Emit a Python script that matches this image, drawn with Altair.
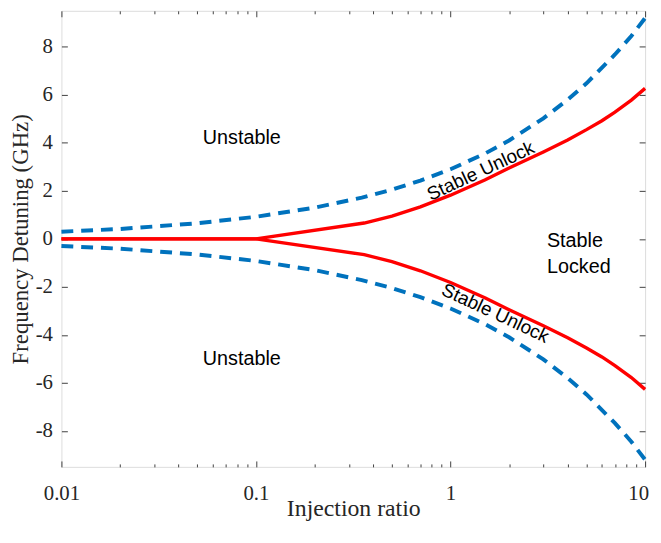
import altair as alt
import pandas as pd

# ---- data ----
x_dash = [0.01, 0.02, 0.05, 0.1, 0.2, 0.35, 0.5, 0.7, 1, 1.5, 2, 3, 4, 5, 7, 8.5, 10]
y_dash_upper = [0.3, 0.41, 0.65, 0.92, 1.3, 1.72, 2.05, 2.43, 2.9, 3.55, 4.1, 5.02,
                5.8, 6.48, 7.68, 8.45, 9.2]
y_dash_lower = [-0.3, -0.41, -0.65, -0.92, -1.3, -1.72, -2.05, -2.43, -2.9, -3.55, -4.1, -5.02,
                -5.8, -6.48, -7.68, -8.45, -9.2]

x_red = [0.01, 0.1, 0.36, 0.5, 0.7, 1, 1.5, 2, 3, 4, 5, 6, 7, 8.5, 10]
y_red_upper = [0, 0, 0.66, 0.95, 1.33, 1.82, 2.45, 2.95, 3.62, 4.12, 4.55, 4.92, 5.28, 5.78, 6.27]
y_red_lower = [0, 0, -0.66, -0.95, -1.33, -1.82, -2.45, -2.95, -3.62, -4.12, -4.55, -4.92, -5.28, -5.78, -6.27]

x_major = [0.01, 0.1, 1, 10]
x_major_left = [0.01, 0.1, 1]
x_major_end = [10]
x_minor = [0.02, 0.03, 0.04, 0.05, 0.06, 0.07, 0.08, 0.09,
           0.2, 0.3, 0.4, 0.5, 0.6, 0.7, 0.8, 0.9,
           2, 3, 4, 5, 6, 7, 8, 9]
y_ticks = [-8, -6, -4, -2, 0, 2, 4, 6, 8]

flat_labels = ["Unstable", "Unstable", "Stable\nLocked"]
flat_x = [0.0533, 0.0533, 3.13]
flat_y = [4.18, -5.0, -0.08]

rot_labels = ["Stable Unlock", "Stable Unlock"]
rot_x = [1.43, 1.7]
rot_y = [2.82, -3.1]
rot_angle = [335, 25]

# ---- tables ----
df_dash = pd.DataFrame({
    "x": x_dash + x_dash,
    "y": y_dash_upper + y_dash_lower,
    "branch": ["upper"] * len(x_dash) + ["lower"] * len(x_dash),
})
df_red = pd.DataFrame({
    "x": x_red + x_red,
    "y": y_red_upper + y_red_lower,
    "branch": ["upper"] * len(x_red) + ["lower"] * len(x_red),
})
df_flat = pd.DataFrame({"label": flat_labels, "x": flat_x, "y": flat_y})
df_rot = pd.DataFrame({"label": rot_labels, "x": rot_x, "y": rot_y, "angle": rot_angle})

W, H = 590, 461
AX = "#404040"
TXT = "#262626"
xs = alt.Scale(type="log", domain=[0.01, 10], nice=False)
ys = alt.Scale(domain=[-9.5, 9.5], nice=False, zero=False)

main_x_axis = alt.Axis(
    orient="bottom", values=x_major_left, labelExpr="toString(datum.value)",
    tickSize=0, domain=False, grid=False, labelPadding=16, labelFlush=False,
    labelOverlap=False,
    labelFont="Liberation Serif", labelFontSize=21, labelColor=TXT,
    title="Injection ratio", titleFont="Liberation Serif", titleFontSize=24,
    titleFontWeight="normal", titleColor=TXT,
    titleY=30, titleBaseline="top",
)
end_x_axis = alt.Axis(
    orient="bottom", values=x_major_end, labelExpr="toString(datum.value)",
    tickSize=0, domain=False, grid=False, labelPadding=16, labelFlush=False,
    labelOverlap=False, labelOffset=-7,
    labelFont="Liberation Serif", labelFontSize=21, labelColor=TXT,
    title=None,
)
main_y_axis = alt.Axis(
    orient="left", values=y_ticks, labelExpr="toString(datum.value)",
    tickSize=0, domain=False, grid=False, labelPadding=9, labelFlush=False,
    labelOverlap=False,
    labelFont="Liberation Serif", labelFontSize=21, labelColor=TXT,
    title="Frequency Detuning (GHz)", titleFont="Liberation Serif", titleFontSize=23,
    titleFontWeight="normal", titleColor=TXT,
    titleX=-41, titleBaseline="middle",
)


def tick_axis(orient, values, size, offset):
    return alt.Axis(orient=orient, values=values, tickSize=size, offset=offset,
                    labels=False, domain=False, grid=False, title=None,
                    tickColor=AX, tickWidth=1)


dash = alt.Chart(df_dash).mark_line(
    color="#0072BD", strokeWidth=4, strokeDash=[12, 8]
).encode(
    x=alt.X("x:Q", scale=xs, axis=main_x_axis),
    y=alt.Y("y:Q", scale=ys, axis=main_y_axis),
    detail="branch:N",
)

red = alt.Chart(df_red).mark_line(color="#FF0000", strokeWidth=3.4).encode(
    x=alt.X("x:Q", scale=xs, axis=None),
    y=alt.Y("y:Q", scale=ys, axis=None),
    detail="branch:N",
)


def ghost(xaxis, yaxis):
    return alt.Chart(df_dash).mark_point(opacity=0).encode(
        x=alt.X("x:Q", scale=xs, axis=xaxis),
        y=alt.Y("y:Q", scale=ys, axis=yaxis),
    )


g1 = ghost(tick_axis("top", x_major, 6, -H), tick_axis("right", y_ticks, 6, -W))
g2 = ghost(tick_axis("top", x_minor, 3, -H), tick_axis("left", y_ticks, 6, -W))
g3 = ghost(tick_axis("bottom", x_major, 6, -H), None)
g4 = ghost(tick_axis("bottom", x_minor, 3, -H), None)
g5 = ghost(end_x_axis, None)

flat = alt.Chart(df_flat).mark_text(
    font="Liberation Sans", fontSize=20, align="left", baseline="middle",
    lineBreak="\n", lineHeight=27, color="black",
).encode(
    x=alt.X("x:Q", scale=xs, axis=None),
    y=alt.Y("y:Q", scale=ys, axis=None),
    text="label:N",
)

rot = alt.Chart(df_rot).mark_text(
    font="Liberation Sans", fontSize=19, align="center", baseline="middle",
    color="black",
).encode(
    x=alt.X("x:Q", scale=xs, axis=None),
    y=alt.Y("y:Q", scale=ys, axis=None),
    text="label:N",
    angle=alt.Angle("angle:Q", scale=None),
)

chart = alt.layer(dash, red, g1, g2, g3, g4, g5, flat, rot).resolve_axis(
    x="independent", y="independent"
).properties(
    width=W, height=H,
    autosize=alt.AutoSizeParams(type="none"),
    padding={"left": 54, "top": 0, "right": 8, "bottom": 66},
).configure_view(stroke=AX, strokeWidth=1).configure(background="white")

chart.save("out.html", embed_options={"renderer": "svg", "actions": False})
